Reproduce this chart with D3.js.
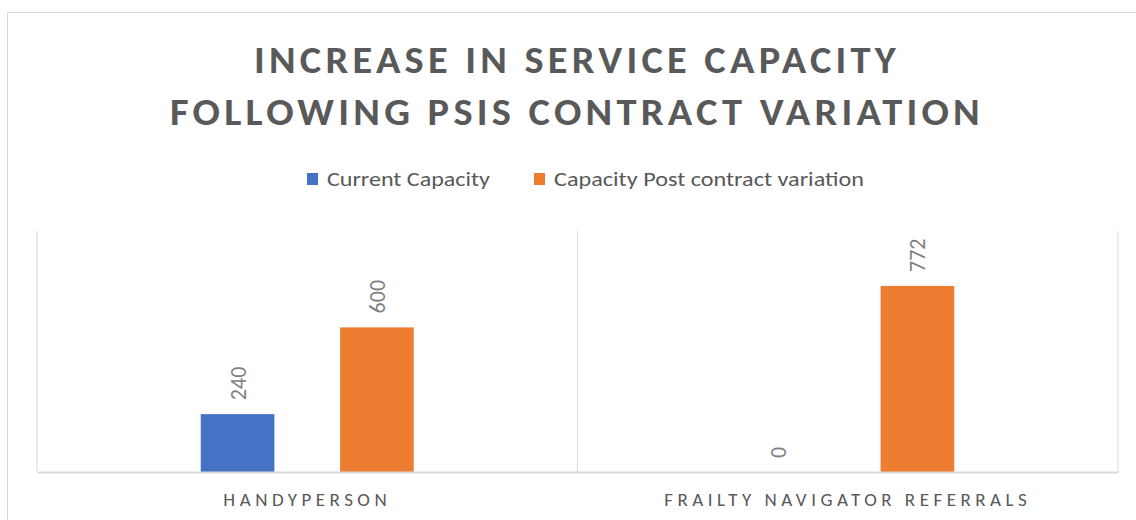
<!DOCTYPE html>
<html>
<head>
<meta charset="utf-8">
<script src="https://cdn.jsdelivr.net/npm/d3@7"></script>
<style>
  body { margin: 0; background: #fff; }
  text { font-family: Carlito, Lato, "Open Sans", sans-serif; fill: #595959; }
</style>
</head>
<body>
<svg id="chart" width="1136" height="520"></svg>
<script>
var categories = ["HANDYPERSON", "FRAILTY NAVIGATOR REFERRALS"];
var seriesNames = ["Current Capacity", "Capacity Post contract variation"];
var currentCapacity = [240, 0];
var postVariation = [600, 772];
var titleLines = ["INCREASE IN SERVICE CAPACITY", "FOLLOWING PSIS CONTRACT VARIATION"];
var colors = ["#4472C4", "#ED7D31"];

var rows = categories.map(function (c, i) {
    return { cat: c, values: [currentCapacity[i], postVariation[i]] };
});

var svg = d3.select("#chart");

// outer chart border
svg.append("rect")
    .attr("x", 7.5).attr("y", 12.5)
    .attr("width", 1140).attr("height", 520)
    .attr("fill", "none").attr("stroke", "#d9d9d9");

// title
svg.append("g").selectAll("text")
    .data(titleLines)
    .join("text")
    .attr("x", 577)
    .attr("y", function (d, i) { return 73 + i * 52; })
    .attr("text-anchor", "middle")
    .attr("font-size", 38)
    .attr("font-weight", "bold")
    .style("letter-spacing", "4px")
    .attr("textLength", function (d, i) { return i == 0 ? 646 : 814; })
    .attr("lengthAdjust", "spacingAndGlyphs")
    .text(function (d) { return d; });

// legend
var legendX = [307, 534];
var legendLen = [163, 310];
var legend = svg.append("g").selectAll("g")
    .data(seriesNames)
    .join("g")
    .attr("transform", function (d, i) { return "translate(" + legendX[i] + ",173)"; });
legend.append("rect")
    .attr("width", 11).attr("height", 12)
    .attr("fill", function (d, i) { return colors[i]; });
legend.append("text")
    .attr("x", 20).attr("y", 13)
    .attr("font-size", 20)
    .attr("textLength", function (d, i) { return legendLen[i]; })
    .attr("lengthAdjust", "spacingAndGlyphs")
    .text(function (d) { return d; });

var margin = { left: 37, right: 18, top: 231, bottom: 48 };
var width = 1136 - margin.left - margin.right;
var baseY = 472;

var x0 = d3.scaleBand().domain(categories).range([margin.left, margin.left + width]);
var x1 = d3.scaleBand().domain([0, 1]).range([0, x0.bandwidth()])
    .paddingInner(0.4714).paddingOuter(1.175);
var y = d3.scaleLinear().domain([0, 1000]).range([baseY, margin.top]);

var plot = svg.append("g");

// vertical gridlines between categories
var bounds = categories.map(function (c) { return x0(c); }).concat([x0.range()[1]]);
plot.selectAll("line.grid")
    .data(bounds)
    .join("line")
    .attr("class", "grid")
    .attr("x1", function (d) { return d; }).attr("x2", function (d) { return d; })
    .attr("y1", y(1000)).attr("y2", baseY)
    .attr("stroke", "#d9d9d9").attr("stroke-width", 1);

// bars
var groups = plot.selectAll("g.cat")
    .data(rows)
    .join("g")
    .attr("class", "cat")
    .attr("transform", function (d) { return "translate(" + x0(d.cat) + ",0)"; });

groups.selectAll("rect")
    .data(function (d) { return d.values; })
    .join("rect")
    .attr("x", function (d, i) { return x1(i); })
    .attr("y", function (d) { return y(d); })
    .attr("width", x1.bandwidth())
    .attr("height", function (d) { return baseY - y(d); })
    .attr("fill", function (d, i) { return colors[i]; });

// value labels, rotated
groups.selectAll("text")
    .data(function (d) { return d.values; })
    .join("text")
    .attr("transform", function (d, i) {
        return "translate(" + (x1(i) + x1.bandwidth() / 2 + 8) + "," + (y(d) - 14) + ") rotate(-90)";
    })
    .attr("font-size", 22)
    .style("fill", "#7f7f7f")
    .text(function (d) { return d; });

// x axis
var xAxis = svg.append("g")
    .attr("transform", "translate(0," + baseY + ")")
    .call(d3.axisBottom(x0).tickSize(0).tickPadding(21));
xAxis.select(".domain").attr("stroke", "#d9d9d9").attr("stroke-width", 2);
xAxis.selectAll("text")
    .attr("font-size", 19)
    .attr("font-family", "Carlito, Lato, 'Open Sans', sans-serif")
    .style("fill", "#595959")
    .style("letter-spacing", "4.5px");
</script>
</body>
</html>
